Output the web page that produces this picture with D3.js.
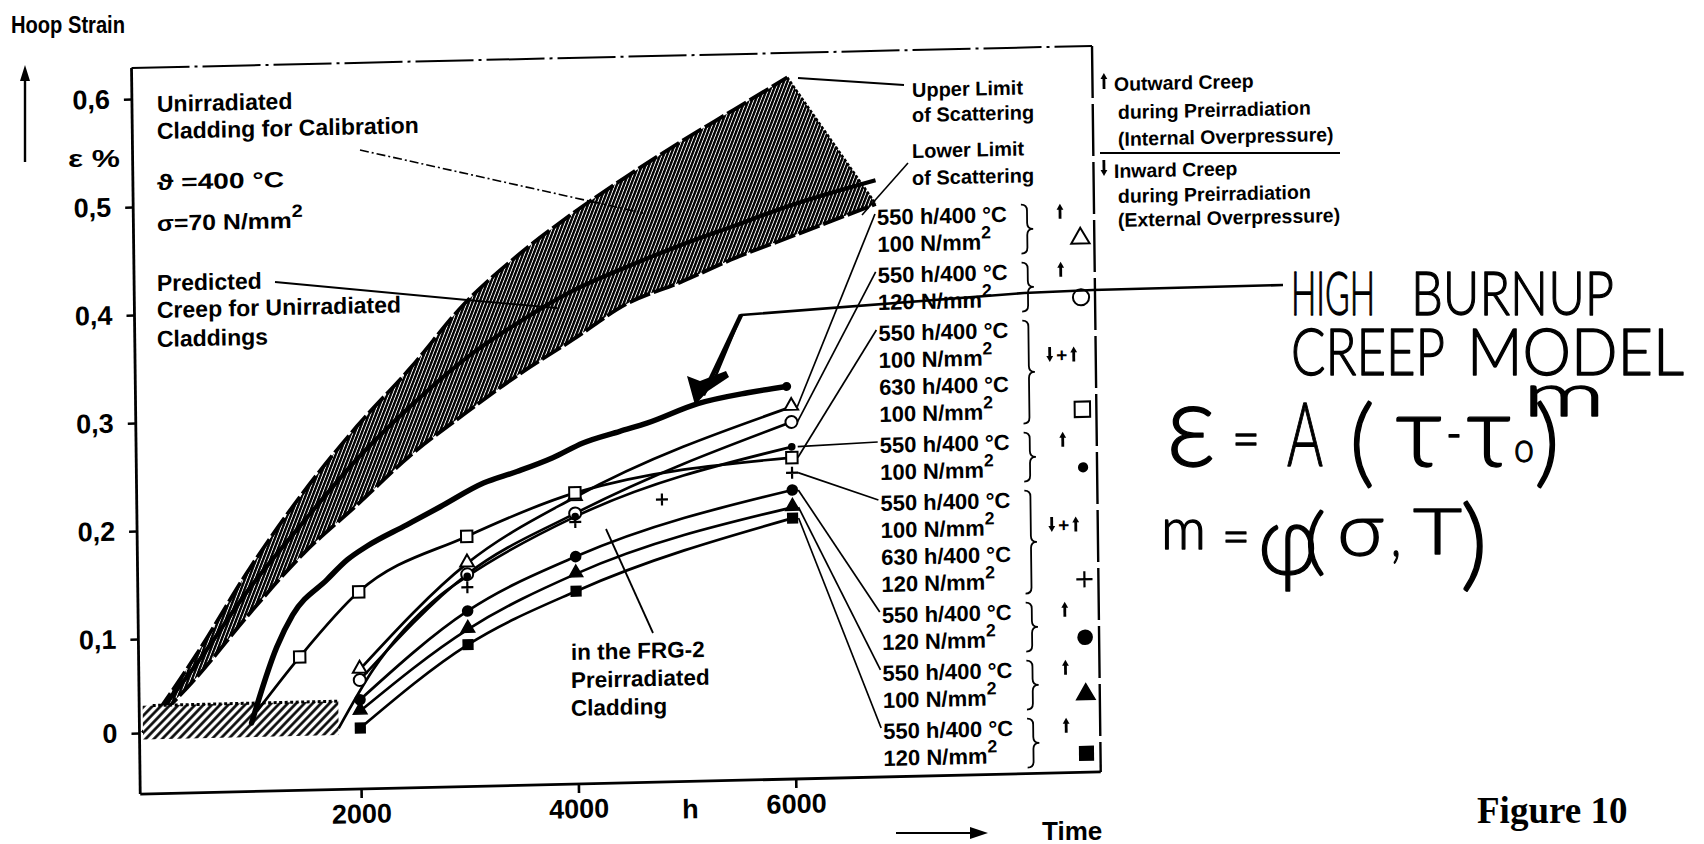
<!DOCTYPE html>
<html>
<head>
<meta charset="utf-8">
<script src="https://cdn.jsdelivr.net/npm/d3@7"></script>
<style>
  html, body { margin: 0; padding: 0; background: #fff; }
  svg { display: block; }
  text { font-family: "Liberation Sans", Arial, sans-serif; font-weight: bold; fill: #000; }
  .hand { font-family: Lato, "Open Sans", "DejaVu Sans", sans-serif; font-weight: 300; stroke: #000; stroke-width: 1.3px; stroke-linejoin: round; }
</style>
</head>
<body>
<svg id="chart" width="1704" height="844"></svg>
<script>
// ---------------- values ----------------
const hourTicks = [2000, 4000, 6000];
const strainTicks = [0, 0.1, 0.2, 0.3, 0.4, 0.5, 0.6];

// scatter band of the unirradiated calibration cladding  [h, strain %]
const scatterUpper = [[0,0],[500,0.082],[1000,0.163],[1500,0.232],[2000,0.292],[2500,0.345],[3000,0.403],[3500,0.447],[4000,0.484],[4500,0.517],[5000,0.548],[5500,0.577],[6000,0.606]];
const scatterLower = [[0,0],[500,0.058],[1000,0.122],[1500,0.176],[2000,0.220],[2500,0.265],[3000,0.302],[3500,0.337],[4000,0.368],[4500,0.400],[5000,0.419],[5500,0.440],[6000,0.458],[6800,0.487]];
const predictedUnirradiated = [[0,0],[500,0.072],[1000,0.145],[1500,0.205],[2000,0.262],[2500,0.310],[3000,0.352],[3500,0.385],[4000,0.413],[4500,0.434],[5000,0.453],[5500,0.470],[6000,0.487],[6800,0.509]];

// preirradiation period
const preirradiationHours = [0, 1800];
const preirradiationStrain = [-0.007, 0.029];

// high burnup creep model curve
const highBurnupModel = [[1000,0.008],[1240,0.088],[1390,0.119],[1710,0.151],[1900,0.169],[2080,0.181],[2450,0.200],[2760,0.216],[3160,0.237],[3470,0.247],[3800,0.259],[4080,0.272],[4420,0.282],[4670,0.289],[5140,0.306],[5600,0.315],[5960,0.320]];

// FRG-2 preirradiated claddings
const seriesOpenTriangle   = [[2000,0.062],[3000,0.163],[4000,0.222],[6000,0.301]];
const seriesOpenCircle     = [[2000,0.051],[3000,0.153],[4000,0.207],[6000,0.287]];
const leadInOpenSquare     = [[1050,0.020]];
const seriesOpenSquare     = [[1450,0.077],[2000,0.139],[3000,0.188],[4000,0.226],[6000,0.254]];
const leadInSmallDot       = [[1800,0],[2120,0.061],[2750,0.134]];
const seriesSmallDot       = [[3000,0.151],[4000,0.204],[6000,0.264]];
const seriesPlus           = [[3000,0.141],[4000,0.199],[4800,0.218],[6000,0.240]];
const seriesFilledCircle   = [[2000,0.030],[3000,0.119],[4000,0.167],[6000,0.224]];
const seriesFilledTriangle = [[2000,0.018],[3000,0.102],[4000,0.151],[6000,0.208]];
const seriesFilledSquare   = [[2000,0.000],[3000,0.086],[4000,0.135],[6000,0.198]];

// legend
const legendLines = [
  ["550 h/400 °C", "100 N/mm²"],
  ["550 h/400 °C", "120 N/mm²"],
  ["550 h/400 °C", "100 N/mm²", "630 h/400 °C", "100 N/mm²"],
  ["550 h/400 °C", "100 N/mm²"],
  ["550 h/400 °C", "100 N/mm²", "630 h/400 °C", "120 N/mm²"],
  ["550 h/400 °C", "120 N/mm²"],
  ["550 h/400 °C", "100 N/mm²"],
  ["550 h/400 °C", "120 N/mm²"]
];
const legendCreep = ["up", "up", "down+up", "up", "down+up", "up", "up", "up"];
const legendMarkers = ["triOpen", "circleOpen", "squareOpen", "dot", "plus", "circleFilled", "triFilled", "squareFilled"];
const legendSeries = [seriesOpenTriangle, seriesOpenCircle, seriesOpenSquare, seriesSmallDot, seriesPlus, seriesFilledCircle, seriesFilledTriangle, seriesFilledSquare];

// ---------------- drawing ----------------
const svg = d3.select("#chart");
const defs = svg.append("defs");

// the printed figure sits slightly sheared on the page
const kx = 0.012, ky = -0.023, cx = 141, cy = 733;
const det = 1 - kx * ky;
function unskew([X, Y]) {
  const dX = X - cx, dY = Y - cy;
  return [cx + (dX - kx * dY) / det, cy + (dY - ky * dX) / det];
}

const plot = svg.append("g")
  .attr("transform", `matrix(1,${ky},${kx},1,${-kx * cy},${-ky * cx})`);

const x = d3.scaleLinear().domain([0, 6000]).range([143, 795]);
const y = d3.scaleLinear().domain([0, 0.1, 0.6]).range([733, 639, 99]);

const frame = { left: 139.5, right: 1100, top: 68, bottom: 794 };

// hatch patterns
const band = defs.append("pattern").attr("id", "bandHatch")
  .attr("patternUnits", "userSpaceOnUse").attr("width", 3.3).attr("height", 3.3)
  .attr("patternTransform", "rotate(22)");
band.append("rect").attr("width", 3.3).attr("height", 3.3).attr("fill", "#fff");
band.append("line").attr("x1", 1.2).attr("y1", 0).attr("x2", 1.2).attr("y2", 3.3)
  .attr("stroke", "#000").attr("stroke-width", 2.4);

const pre = defs.append("pattern").attr("id", "preHatch")
  .attr("patternUnits", "userSpaceOnUse").attr("width", 6).attr("height", 6)
  .attr("patternTransform", "rotate(45)");
pre.append("rect").attr("width", 6).attr("height", 6).attr("fill", "#fff");
pre.append("line").attr("x1", 1.5).attr("y1", 0).attr("x2", 1.5).attr("y2", 6)
  .attr("stroke", "#000").attr("stroke-width", 2.6);

// frame
plot.append("line").attr("x1", frame.left).attr("y1", frame.top).attr("x2", frame.left).attr("y2", frame.bottom)
  .attr("stroke", "#000").attr("stroke-width", 2.8);
plot.append("line").attr("x1", frame.left).attr("y1", frame.bottom).attr("x2", frame.right).attr("y2", frame.bottom)
  .attr("stroke", "#000").attr("stroke-width", 2.8);
plot.append("line").attr("x1", frame.left).attr("y1", frame.top).attr("x2", frame.right).attr("y2", frame.top)
  .attr("stroke", "#000").attr("stroke-width", 2).attr("stroke-dasharray", "58 5 3 5");
plot.append("line").attr("x1", frame.right).attr("y1", frame.top).attr("x2", frame.right).attr("y2", frame.bottom)
  .attr("stroke", "#000").attr("stroke-width", 2.4).attr("stroke-dasharray", "52 6");

// axes
const fmt = d => d === 0 ? "0" : d3.format(".1f")(d).replace(".", ",");
const yAxis = plot.append("g").attr("transform", `translate(${frame.left},0)`)
  .call(d3.axisLeft(y).tickValues(strainTicks).tickSize(8).tickPadding(14).tickFormat(fmt));
const xAxis = plot.append("g").attr("transform", `translate(0,${frame.bottom})`)
  .call(d3.axisBottom(x).tickValues(hourTicks).tickSize(9).tickPadding(6).tickFormat(d3.format("d")));
[yAxis, xAxis].forEach(a => {
  a.select(".domain").remove();
  a.selectAll(".tick line").attr("stroke", "#000").attr("stroke-width", 2.6);
  a.selectAll(".tick text").attr("font-family", '"Liberation Sans", Arial, sans-serif')
    .attr("font-weight", "bold").attr("font-size", 27).attr("fill", "#000");
});
plot.append("text").attr("x", 681).attr("y", 831).attr("font-size", 27).text("h");

const pt = d => [x(d[0]), y(d[1])];
const smooth = d3.line().x(d => x(d[0])).y(d => y(d[1])).curve(d3.curveMonotoneX);

// scatter band
const upperPts = scatterUpper.map(pt);
const lowerPts = scatterLower.map(pt);
const cr = d3.line().curve(d3.curveCatmullRom.alpha(0.5));
const bandPath = cr(upperPts) + "L" + cr(lowerPts.slice().reverse()).slice(1) + "Z";
plot.append("path").attr("d", bandPath).attr("fill", "url(#bandHatch)").attr("stroke", "none");
plot.append("path").attr("d", smooth(scatterUpper)).attr("fill", "none")
  .attr("stroke", "#000").attr("stroke-width", 3.8).attr("stroke-dasharray", "22 4");
plot.append("path").attr("d", smooth(scatterLower)).attr("fill", "none")
  .attr("stroke", "#000").attr("stroke-width", 3.8).attr("stroke-dasharray", "22 4");
const uEnd = scatterUpper[scatterUpper.length - 1], lEnd = scatterLower[scatterLower.length - 1];
plot.append("line")
  .attr("x1", x(uEnd[0])).attr("y1", y(uEnd[1])).attr("x2", x(lEnd[0])).attr("y2", y(lEnd[1]))
  .attr("stroke", "#000").attr("stroke-width", 2.4).attr("stroke-dasharray", "3 2");
plot.append("path").attr("d", smooth(predictedUnirradiated)).attr("fill", "none")
  .attr("stroke", "#000").attr("stroke-width", 4.2);

// preirradiation period
plot.append("rect")
  .attr("x", x(preirradiationHours[0])).attr("y", y(preirradiationStrain[1]))
  .attr("width", x(preirradiationHours[1]) - x(preirradiationHours[0]))
  .attr("height", y(preirradiationStrain[0]) - y(preirradiationStrain[1]))
  .attr("fill", "url(#preHatch)");
plot.append("line")
  .attr("x1", x(preirradiationHours[0]) + 10).attr("x2", x(preirradiationHours[1]))
  .attr("y1", y(preirradiationStrain[1])).attr("y2", y(preirradiationStrain[1]))
  .attr("stroke", "#000").attr("stroke-width", 3).attr("stroke-dasharray", "3 2.5");

// leader lines for the annotations (page positions)
function leader(points, width, dash) {
  const p = plot.append("path")
    .attr("d", d3.line()(points.map(unskew)))
    .attr("fill", "none").attr("stroke", "#000").attr("stroke-width", width);
  if (dash) p.attr("stroke-dasharray", dash);
}
leader([[360, 150], [643, 213]], 1.6, "9 3 2 3");
leader([[275, 282], [467, 300], [557, 308]], 1.8);
leader([[798, 78], [904, 85]], 1.8);
leader([[908, 163], [862, 215]], 1.6);
leader([[653, 633], [606, 529]], 1.8);

// measured series
const lineSeries = [
  [seriesOpenTriangle, []], [seriesOpenCircle, []], [seriesOpenSquare, leadInOpenSquare],
  [seriesSmallDot, leadInSmallDot], [seriesFilledCircle, []], [seriesFilledTriangle, []], [seriesFilledSquare, []]
];
lineSeries.forEach(([s, lead]) => {
  plot.append("path").attr("d", smooth(lead.concat(s))).attr("fill", "none")
    .attr("stroke", "#000").attr("stroke-width", 2.7);
});

// high burnup model curve
plot.append("path").attr("d", smooth(highBurnupModel)).attr("fill", "none")
  .attr("stroke", "#000").attr("stroke-width", 5.5).attr("stroke-linecap", "round");
const modelEnd = highBurnupModel[highBurnupModel.length - 1];
plot.append("circle").attr("cx", x(modelEnd[0])).attr("cy", y(modelEnd[1])).attr("r", 4.5).attr("fill", "#000");

// marker glyphs
function marker(g, kind, cxp, cyp, scale) {
  const s = scale || 1;
  const sym = (type, size) => d3.symbol().type(type).size(size * s * s)();
  const at = `translate(${cxp},${cyp})`;
  switch (kind) {
    case "triOpen":
      g.append("path").attr("d", sym(d3.symbolTriangle, 80)).attr("transform", at + " translate(0,-1)")
        .attr("fill", "#fff").attr("stroke", "#000").attr("stroke-width", 2); break;
    case "triFilled":
      g.append("path").attr("d", sym(d3.symbolTriangle, 80)).attr("transform", at + " translate(0,-1)")
        .attr("fill", "#000").attr("stroke", "#000").attr("stroke-width", 1.5); break;
    case "circleOpen":
      g.append("circle").attr("cx", cxp).attr("cy", cyp).attr("r", 6 * s)
        .attr("fill", "#fff").attr("stroke", "#000").attr("stroke-width", 2); break;
    case "circleFilled":
      g.append("circle").attr("cx", cxp).attr("cy", cyp).attr("r", 5.8 * s).attr("fill", "#000"); break;
    case "squareOpen":
      g.append("path").attr("d", sym(d3.symbolSquare, 130)).attr("transform", at)
        .attr("fill", "#fff").attr("stroke", "#000").attr("stroke-width", 2); break;
    case "squareFilled":
      g.append("path").attr("d", sym(d3.symbolSquare, 125)).attr("transform", at).attr("fill", "#000"); break;
    case "dot":
      g.append("circle").attr("cx", cxp).attr("cy", cyp).attr("r", 3.8 * s).attr("fill", "#000"); break;
    case "plus": {
      const h = 6 * s;
      g.append("path").attr("d", `M${cxp - h},${cyp}H${cxp + h}M${cxp},${cyp - h}V${cyp + h}`)
        .attr("stroke", "#000").attr("stroke-width", 2.2); break;
    }
  }
}
legendSeries.forEach((s, i) => {
  s.forEach(d => marker(plot, legendMarkers[i], x(d[0]), y(d[1]), 1));
});

// small creep-direction arrows
function creepArrow(g, ax, yTop, yBot, up) {
  const tip = up ? yTop : yBot, tail = up ? yBot : yTop, dir = up ? 1 : -1;
  g.append("line").attr("x1", ax).attr("x2", ax).attr("y1", tail).attr("y2", tip + dir * 4)
    .attr("stroke", "#000").attr("stroke-width", 2.8);
  g.append("path").attr("d", `M${ax},${tip}L${ax - 3.4},${tip + dir * 6}L${ax + 3.4},${tip + dir * 6}Z`).attr("fill", "#000");
}

// text helper: page position, superscript for "²"
function note(parent, page, str, size, len) {
  const [tx, ty] = unskew(page);
  const t = parent.append("text").attr("x", tx).attr("y", ty).attr("font-size", size);
  addRich(t, str, size);
  if (len) t.attr("textLength", len).attr("lengthAdjust", "spacingAndGlyphs");
  return t;
}
function addRich(t, str, size) {
  const parts = str.split("²");
  parts.forEach((p, i) => {
    if (i > 0) {
      t.append("tspan").attr("dy", -size * 0.5).attr("font-size", size * 0.8).text("2");
      if (p) t.append("tspan").attr("dy", size * 0.5).attr("font-size", size).text(p);
    } else if (p) {
      t.append("tspan").attr("font-size", size).text(p);
    }
  });
}

note(plot, [157, 112], "Unirradiated", 23);
note(plot, [157, 139], "Cladding for Calibration", 23);
note(plot, [157, 190], "ϑ  =400 °C", 22, 127);
note(plot, [157, 231], "σ=70 N/mm²", 22, 146);
note(plot, [157, 291], "Predicted", 23);
note(plot, [157, 318], "Creep for Unirradiated", 23);
note(plot, [157, 347], "Claddings", 23);
note(plot, [912, 97], "Upper Limit", 20);
note(plot, [912, 122], "of Scattering", 20);
note(plot, [912, 158], "Lower Limit", 20);
note(plot, [912, 185], "of Scattering", 20);
note(plot, [571, 660], "in the FRG-2", 22.5);
note(plot, [571, 688], "Preirradiated", 22.5);
note(plot, [571, 716], "Cladding", 22.5);

// creep direction key, right of the frame
{
  const [ax1, ay1] = unskew([1104, 86]);
  creepArrow(plot, ax1, ay1 - 13, ay1 + 3, true);
  const [ax2, ay2] = unskew([1104, 173]);
  creepArrow(plot, ax2, ay2 - 13, ay2 + 3, false);
}
note(plot, [1114, 91], "Outward Creep", 19.5);
note(plot, [1118, 119], "during Preirradiation", 19.5);
note(plot, [1118, 146], "(Internal Overpressure)", 19.5);
leader([[1100, 153], [1340, 153]], 2);
note(plot, [1114, 178], "Inward Creep", 19.5);
note(plot, [1118, 203], "during Preirradiation", 19.5);
note(plot, [1118, 227], "(External Overpressure)", 19.5);

// legend inside the frame (unsheared coordinates)
const lg = plot.append("g");
const lineGap = 27, entryGap = 4, legendX = 883, braceX = 1027, creepX = 1066, markX = 1086;
let base = 242;
legendLines.forEach((lines, i) => {
  const first = base;
  lines.forEach((ln, j) => {
    const t = lg.append("text").attr("x", legendX).attr("y", base).attr("font-size", 22);
    addRich(t, ln, 22);
    if (j < lines.length - 1) base += lineGap;
  });
  const last = base;
  const top = first - 17, bot = last + 5, mid = (top + bot) / 2;
  lg.append("path")
    .attr("d", `M${braceX},${top}Q${braceX + 6},${top} ${braceX + 6},${top + 6}L${braceX + 6},${mid - 6}Q${braceX + 6},${mid} ${braceX + 12},${mid}Q${braceX + 6},${mid} ${braceX + 6},${mid + 6}L${braceX + 6},${bot - 6}Q${braceX + 6},${bot} ${braceX},${bot}`)
    .attr("fill", "none").attr("stroke", "#000").attr("stroke-width", 1.8);
  if (legendCreep[i] === "up") {
    creepArrow(lg, creepX, first - 17, first - 2, true);
  } else {
    const ay = first + lineGap;
    creepArrow(lg, creepX - 12, ay - 17, ay - 2, false);
    lg.append("text").attr("x", creepX).attr("y", ay - 2).attr("text-anchor", "middle")
      .attr("font-size", 19).text("+");
    creepArrow(lg, creepX + 12, ay - 17, ay - 2, true);
  }
  marker(lg, legendMarkers[i], markX, last - 8, 1.35);
  // leader to the 6000 h reading
  const s = legendSeries[i];
  const d = s[s.length - 1];
  lg.append("line").attr("x1", legendX - 2).attr("y1", first - 11)
    .attr("x2", x(d[0]) + 6).attr("y2", y(d[1]))
    .attr("stroke", "#000").attr("stroke-width", 1.7);
  base = last + lineGap + entryGap;
});

// page-level labels
svg.append("text").attr("x", 11).attr("y", 33).attr("font-size", 23)
  .attr("textLength", 114).attr("lengthAdjust", "spacingAndGlyphs").text("Hoop Strain");
svg.append("line").attr("x1", 25).attr("y1", 162).attr("x2", 25).attr("y2", 78)
  .attr("stroke", "#000").attr("stroke-width", 2.4);
svg.append("path").attr("d", "M25,65L20,81L30,81Z").attr("fill", "#000");
svg.append("text").attr("x", 68).attr("y", 167).attr("font-size", 24)
  .attr("textLength", 52).attr("lengthAdjust", "spacingAndGlyphs").text("ε %");
svg.append("line").attr("x1", 896).attr("y1", 833).attr("x2", 974).attr("y2", 833)
  .attr("stroke", "#000").attr("stroke-width", 2.2);
svg.append("path").attr("d", "M988,833L970,827L970,839Z").attr("fill", "#000");
svg.append("text").attr("x", 1042).attr("y", 840).attr("font-size", 26).text("Time");
svg.append("text").attr("x", 1477).attr("y", 823).attr("font-size", 37)
  .style("font-family", '"Liberation Serif", "Times New Roman", serif').text("Figure 10");

// handwritten note and pointer
const hand = svg.append("g");
hand.append("path").attr("d", "M1283,285L1093,290L1024,293L741,315L712,385")
  .attr("fill", "none").attr("stroke", "#000").attr("stroke-width", 2.6).attr("stroke-linejoin", "round");
hand.append("path").attr("d", "M741,315L703,395").attr("stroke", "#000").attr("stroke-width", 4.5);
hand.append("path").attr("d", "M695,405L687,376L700,381L726,371L729,377L708,391Z").attr("fill", "#000");

// each handwritten line is one text; tokens are placed individually
function handLine(tokens) {
  const t = hand.append("text").attr("class", "hand");
  tokens.forEach(([str, px, py, size, len]) => {
    const s = t.append("tspan").attr("x", px).attr("y", py).attr("font-size", size).text(str);
    if (len) s.attr("textLength", len).attr("lengthAdjust", "spacingAndGlyphs");
  });
}
handLine([["HIGH", 1291, 315, 62, 84], ["BURNUP", 1411, 315, 62, 203]]);
handLine([["CREEP", 1291, 375, 66, 154], ["MODEL", 1467, 375, 66, 217]]);
handLine([
  ["ε", 1166, 466, 118, 50], ["=", 1232, 458, 56, 28], ["A", 1287, 466, 88, 36],
  ["(", 1349, 475, 96, 26], ["τ", 1395, 466, 100, 48], ["-", 1446, 452, 56, 16],
  ["τ", 1466, 466, 100, 46], ["o", 1514, 462, 42, 20], [")", 1534, 475, 96, 26],
  ["m", 1523, 416, 60, 82]
]);
handLine([
  ["m", 1161, 549, 58, 45], ["=", 1222, 554, 52, 28], ["φ", 1258, 574, 97, 60],
  ["(", 1304, 566, 72, 22], ["σ", 1337, 556, 72, 47], [",", 1391, 556, 60, 10],
  ["T", 1413, 554, 64, 49], [")", 1460, 578, 100, 28]
]);
</script>
</body>
</html>
